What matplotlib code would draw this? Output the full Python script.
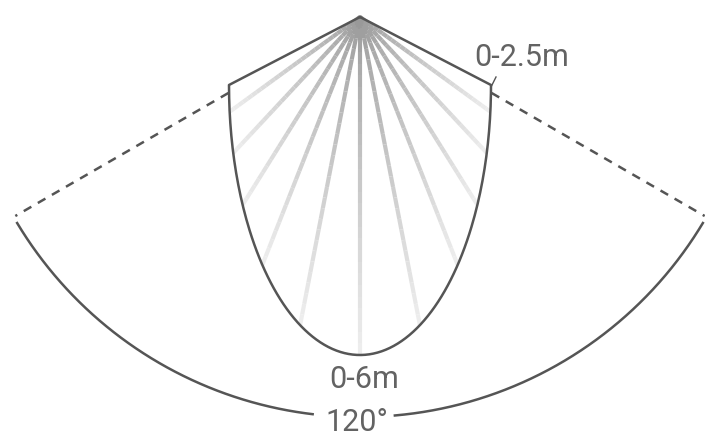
import numpy as np
import matplotlib
matplotlib.use('Agg')
import matplotlib.pyplot as plt
from matplotlib.collections import LineCollection

# Diagram geometry (pixel units, y grows downward)
apex = (360, 17)
sector_half_angle = 59          # degrees either side of straight down
outer_radius = 400
outer_gap = (-6.8, 5.0)        # gap in the outer arc for the "120°" label
dash_range = (152, 398)         # radial span of the dashed sector edges

zone_center = (360, 85)         # detection zone: bottom half of an ellipse
zone_half_width = 131
zone_depth = 270

ray_angles = [-54, -43, -32, -21.5, -11, 0, 11, 21.5, 32, 43, 54]

labels = ['0-2.5m', '0-6m', '120°']
label_pos = [(522, 66), (364, 388), (357, 431)]

line_color = '#555555'
text_color = '#636363'

plt.rcParams['font.family'] = ['Roboto', 'DejaVu Sans']

fig = plt.figure(figsize=(7.05, 4.34), dpi=100)
ax = fig.add_axes([0, 0, 1, 1])
ax.set_xlim(0, 705)
ax.set_ylim(434, 0)
ax.axis('off')


def polar(r, deg):
    a = np.radians(deg)
    return apex[0] + r * np.sin(a), apex[1] + r * np.cos(a)


def ray_hit(deg):
    # distance from apex to the lower half of the zone ellipse
    a = np.radians(deg)
    dx, dy = np.sin(a), np.cos(a)
    ox, oy = apex[0] - zone_center[0], apex[1] - zone_center[1]
    A = (dx / zone_half_width) ** 2 + (dy / zone_depth) ** 2
    B = 2 * (ox * dx / zone_half_width ** 2 + oy * dy / zone_depth ** 2)
    C = (ox / zone_half_width) ** 2 + (oy / zone_depth) ** 2 - 1
    return (-B + np.sqrt(B * B - 4 * A * C)) / (2 * A)


# gray rays, darker near the apex
segs, cols = [], []
for ang in ray_angles:
    t = np.linspace(0, ray_hit(ang), 30)
    xs, ys = polar(t, ang)
    for i in range(len(t) - 1):
        segs.append([(xs[i], ys[i]), (xs[i + 1], ys[i + 1])])
        f = i / (len(t) - 2)
        g = 0.6 + 0.33 * f ** 0.8
        cols.append((g, g, g))
ax.add_collection(LineCollection(segs, colors=cols, linewidths=3.0,
                                 capstyle='butt', zorder=1))

# zone outline
right_corner = (zone_center[0] + zone_half_width, zone_center[1])
th = np.linspace(np.pi, 0, 200)
ex = zone_center[0] + zone_half_width * np.cos(th)
ey = zone_center[1] + zone_depth * np.sin(th)
ax.plot(np.r_[apex[0], ex, apex[0]], np.r_[apex[1], ey, apex[1]],
        color=line_color, lw=1.8, solid_joinstyle='round', zorder=3)

# dashed sector edges
for side in (-1, 1):
    xs, ys = polar(np.array(dash_range), side * 60)
    ax.plot(xs, ys, color=line_color, lw=1.8, ls=(0, (3.5, 3)), zorder=2)

# leader tick for the 2.5m label
ax.plot([right_corner[0], right_corner[0] + 5], [right_corner[1] + 2, right_corner[1] - 8],
        color=line_color, lw=1.0)

# outer arc with a gap for the angle label
for a0, a1 in [(-sector_half_angle, outer_gap[0]), (outer_gap[1], sector_half_angle)]:
    xs, ys = polar(outer_radius, np.linspace(a0, a1, 200))
    ax.plot(xs, ys, color=line_color, lw=1.8, zorder=2)

for txt, (x, y) in zip(labels, label_pos):
    ax.text(x, y, txt, ha='center', va='baseline', fontsize=22,
            color=text_color)

fig.savefig('out.png', dpi=100)
